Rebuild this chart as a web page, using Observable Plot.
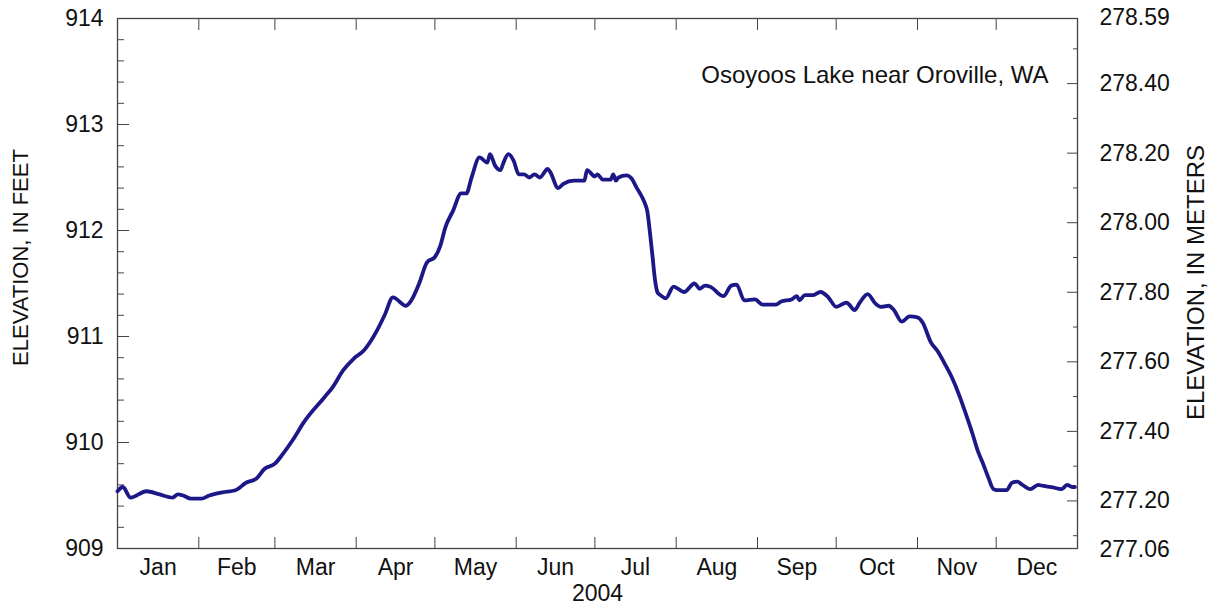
<!DOCTYPE html>
<html><head><meta charset="utf-8">
<script src="https://cdn.jsdelivr.net/npm/d3@7"></script>
<script src="https://cdn.jsdelivr.net/npm/@observablehq/plot@0.6"></script>
<style>body{margin:0;background:#fff}</style>
</head><body><div id="chart"></div>
<script>
const dates = ["2004-01-01","2004-01-03","2004-01-06","2004-01-12","2004-01-17","2004-01-22","2004-01-24","2004-01-26","2004-01-29",
"2004-02-02","2004-02-05","2004-02-10","2004-02-15","2004-02-19","2004-02-23","2004-02-26",
"2004-03-01","2004-03-04","2004-03-08","2004-03-12","2004-03-20","2004-03-23","2004-03-27","2004-03-31",
"2004-04-04","2004-04-09","2004-04-12","2004-04-15","2004-04-20","2004-04-22","2004-04-25","2004-04-28",
"2004-05-01","2004-05-03","2004-05-05","2004-05-08","2004-05-11","2004-05-13","2004-05-15","2004-05-18","2004-05-21","2004-05-22","2004-05-24","2004-05-26","2004-05-27","2004-05-29","2004-05-31",
"2004-06-02","2004-06-04","2004-06-06","2004-06-08","2004-06-10","2004-06-13","2004-06-14","2004-06-17","2004-06-19","2004-06-23","2004-06-27","2004-06-28",
"2004-07-01","2004-07-02","2004-07-04","2004-07-07","2004-07-08","2004-07-09","2004-07-10","2004-07-13","2004-07-15","2004-07-17","2004-07-18","2004-07-20","2004-07-21","2004-07-22","2004-07-23","2004-07-24","2004-07-25","2004-07-26","2004-07-28","2004-07-31",
"2004-08-03","2004-08-04","2004-08-08","2004-08-10","2004-08-12","2004-08-14","2004-08-19","2004-08-22","2004-08-24","2004-08-27","2004-08-31",
"2004-09-03","2004-09-08","2004-09-10","2004-09-14","2004-09-16","2004-09-17","2004-09-19","2004-09-22","2004-09-25","2004-09-28",
"2004-10-01","2004-10-05","2004-10-06","2004-10-08","2004-10-10","2004-10-13","2004-10-16","2004-10-18","2004-10-21","2004-10-23","2004-10-26","2004-10-29",
"2004-11-01","2004-11-03","2004-11-06","2004-11-09","2004-11-11","2004-11-14","2004-11-17","2004-11-19","2004-11-22","2004-11-24","2004-11-26","2004-11-28","2004-11-30",
"2004-12-02","2004-12-05","2004-12-07","2004-12-09","2004-12-11","2004-12-14","2004-12-17","2004-12-19","2004-12-22","2004-12-26","2004-12-28","2004-12-30","2004-12-31"];
const feet = [909.54,909.58,909.48,909.54,909.51,909.48,909.51,909.50,909.47,
909.47,909.50,909.53,909.55,909.62,909.66,909.75,
909.80,909.89,910.03,910.19,910.43,910.52,910.68,910.79,
910.87,911.06,911.21,911.37,911.29,911.34,911.50,911.70,
911.75,911.85,912.03,912.19,912.35,912.35,912.50,912.69,912.64,912.72,912.61,912.57,912.63,912.72,912.66,
912.53,912.53,912.50,912.53,912.50,912.58,912.55,912.40,912.44,912.47,912.47,912.57,
912.51,912.53,912.48,912.48,912.53,912.47,912.50,912.52,912.49,912.40,912.36,912.26,912.18,911.98,911.75,911.52,911.41,911.39,911.36,911.47,
911.43,911.42,911.50,911.45,911.48,911.47,911.38,911.48,911.49,911.34,911.35,
911.30,911.30,911.33,911.35,911.38,911.34,911.39,911.39,911.42,911.37,
911.28,911.32,911.30,911.25,911.32,911.40,911.31,911.28,911.29,911.25,911.14,911.19,
911.18,911.13,910.95,910.85,910.76,910.62,910.44,910.30,910.08,909.92,909.80,909.67,909.56,
909.55,909.55,909.62,909.63,909.60,909.56,909.60,909.59,909.58,909.56,909.60,909.58,909.58];

const monthLabels = ["Jan","Feb","Mar","Apr","May","Jun","Jul","Aug","Sep","Oct","Nov","Dec"];
const feetTicks = [909, 910, 911, 912, 913, 914];
const feetMinorTicks = [909.2,909.4,909.6,909.8,910.2,910.4,910.6,910.8,911.2,911.4,911.6,911.8,912.2,912.4,912.6,912.8,913.2,913.4,913.6,913.8];
const meterLabels = [277.06, 277.20, 277.40, 277.60, 277.80, 278.00, 278.20, 278.40, 278.59];
const meterMajorTicks = [277.20, 277.40, 277.60, 277.80, 278.00, 278.20, 278.40];
const meterMinorTicks = [277.10, 277.30, 277.50, 277.70, 277.90, 278.10, 278.30, 278.50];
const yearLabel = "2004";
const siteLabel = "Osoyoos Lake near Oroville, WA";
const leftTitle = "ELEVATION, IN FEET";
const rightTitle = "ELEVATION, IN METERS";

const M = 0.3048;
const parse = d3.utcParse("%Y-%m-%d");
const rows = dates.map((d, i) => ({date: parse(d), ft: feet[i]}));
const monthStarts = d3.range(13).map(m => new Date(Date.UTC(2004, m, 1)));
const monthInner = monthStarts.slice(1, 12);
const monthMids = monthLabels.map((_, m) => new Date((+monthStarts[m] + +monthStarts[m + 1]) / 2));

const axisColor = "#444";
const chart = Plot.plot({
  width: 1215, height: 609,
  marginLeft: 117, marginRight: 138, marginTop: 18, marginBottom: 61,
  style: {fontFamily: "'Liberation Sans', Arial, Helvetica, sans-serif", fontSize: "23px", color: "#111", background: "#fff"},
  x: {type: "utc", domain: [monthStarts[0], monthStarts[12]], axis: null},
  y: {domain: [909, 914], axis: null},
  marks: [
    Plot.axisX(monthMids, {anchor: "bottom", tickSize: 0, tickPadding: 10, tickFormat: d => monthLabels[d.getUTCMonth()], fontSize: 23, label: null, fill: "#111"}),
    Plot.axisX(monthInner, {anchor: "bottom", tickSize: -11, tickFormat: () => "", label: null, stroke: axisColor}),
    Plot.axisX(monthInner, {anchor: "top", tickSize: -11, tickFormat: () => "", label: null, stroke: axisColor}),
    Plot.axisY(feetTicks, {anchor: "left", tickSize: -12, tickPadding: 26, tickFormat: d => String(d), fontSize: 23, label: null, stroke: axisColor, fill: "#111"}),
    Plot.axisY(feetMinorTicks, {anchor: "left", tickSize: -7, tickFormat: () => "", label: null, stroke: axisColor}),
    Plot.axisY(meterLabels.map(m => m / M), {anchor: "right", tickSize: 0, tickPadding: 22, tickFormat: d => (d * M).toFixed(2), fontSize: 23, label: null, fill: "#111"}),
    Plot.axisY(meterMajorTicks.map(m => m / M), {anchor: "right", tickSize: -11, tickFormat: () => "", label: null, stroke: axisColor}),
    Plot.axisY(meterMinorTicks.map(m => m / M), {anchor: "right", tickSize: -5, tickFormat: () => "", label: null, stroke: axisColor}),
    Plot.frame({stroke: axisColor, strokeWidth: 1.3}),
    Plot.line(rows, {x: "date", y: "ft", stroke: "#1d1887", strokeWidth: 3.8, strokeLinejoin: "round", curve: "monotone-x"}),
    Plot.text([siteLabel], {frameAnchor: "top-right", textAnchor: "end", lineAnchor: "top", dx: -29, dy: 47, fontSize: 24, fill: "#111"}),
    Plot.text([yearLabel], {frameAnchor: "bottom", textAnchor: "middle", lineAnchor: "bottom", dy: 52, fontSize: 23, fill: "#111"}),
    Plot.text([leftTitle], {frameAnchor: "left", textAnchor: "middle", lineAnchor: "middle", rotate: -90, dx: -97, dy: -26, fontSize: 22, fill: "#111"}),
    Plot.text([rightTitle], {frameAnchor: "right", textAnchor: "middle", lineAnchor: "middle", rotate: -90, dx: 118.5, dy: -1, fontSize: 24, fill: "#111"})
  ]
});
document.getElementById("chart").appendChild(chart);
</script>
</body></html>
